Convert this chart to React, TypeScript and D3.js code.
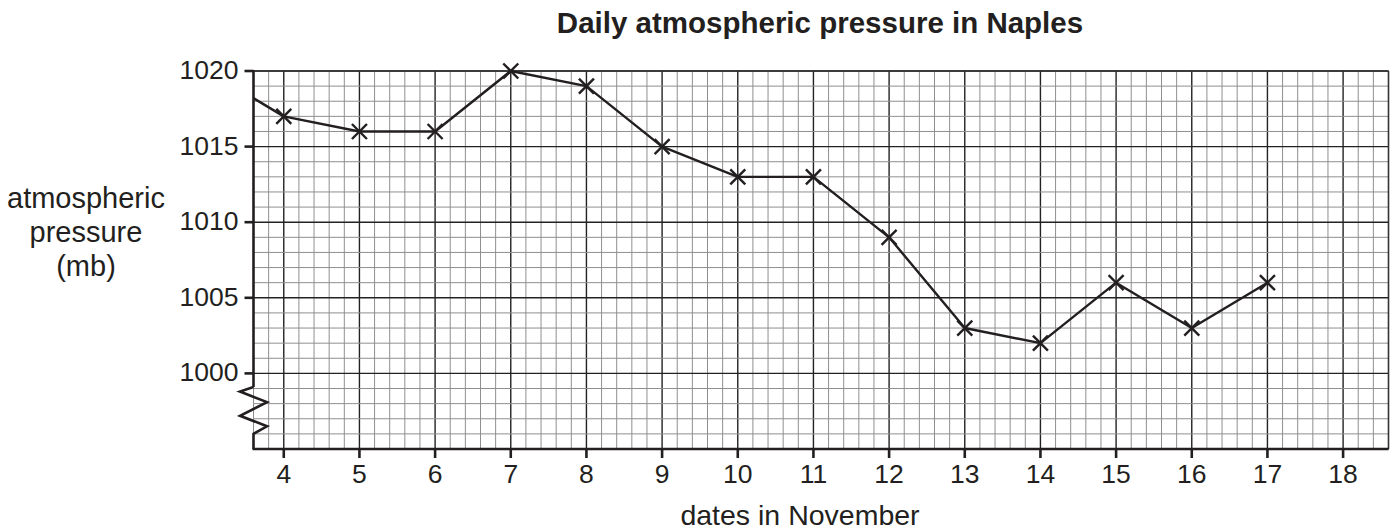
import React from "react";
import * as d3 from "d3";

const days = [3, 4, 5, 6, 7, 8, 9, 10, 11, 12, 13, 14, 15, 16, 17];
const pressure = [1020, 1017, 1016, 1016, 1020, 1019, 1015, 1013, 1013, 1009, 1003, 1002, 1006, 1003, 1006];
const xTicks = [4, 5, 6, 7, 8, 9, 10, 11, 12, 13, 14, 15, 16, 17, 18];
const yTicks = [1000, 1005, 1010, 1015, 1020];
const title = "Daily atmospheric pressure in Naples";
const xLabel = "dates in November";
const yLabelLines = ["atmospheric", "pressure", "(mb)"];

const W = 1396;
const H = 531;
const left = 253.5;
const right = 1388.5;
const top = 71;
const bottom = 449;

export default function App() {
  const x = d3.scaleLinear().domain([3.6, 18.6]).range([left, right]);
  const y = d3.scaleLinear().domain([995, 1020]).range([bottom, top]);

  const minorX = d3.range(36, 187, 2).map((v) => v / 10);
  const minorY = d3.range(995, 1021, 1);

  const pts = days.map((d, i) => [d, pressure[i]] as [number, number]);
  const line = d3
    .line<[number, number]>()
    .x((d) => x(d[0]))
    .y((d) => y(d[1]));

  const font = "'Liberation Sans', Arial, sans-serif";
  const s = 7.5;

  const zig = [
    [left, y(999.1)],
    [240, y(998.8)],
    [267, y(998.1)],
    [240, y(997.2)],
    [267, y(996.5)],
    [left, y(996)],
    [left, bottom],
  ];

  return (
    <svg
      width={W}
      height={H}
      style={{ position: "absolute", left: 0, top: 0, background: "#fff" }}
      fontFamily={font}
    >
      <defs>
        <clipPath id="plotclip">
          <rect x={left} y={top - 10} width={right - left} height={bottom - top + 10} />
        </clipPath>
      </defs>
      <rect x={0} y={0} width={W} height={H} fill="#fff" />
      {/* grid */}
      {minorX.map((v, i) => {
        const major = Math.abs(v - Math.round(v)) < 1e-6;
        return (
          <line
            key={"mx" + i}
            x1={x(v)}
            x2={x(v)}
            y1={top}
            y2={bottom}
            stroke={major ? "#222" : "#8f8f8f"}
            strokeWidth={major ? 1.4 : 1}
          />
        );
      })}
      {minorY.map((v, i) => {
        const major = v % 5 === 0;
        return (
          <line
            key={"my" + i}
            x1={left}
            x2={right}
            y1={y(v)}
            y2={y(v)}
            stroke={major ? "#222" : "#8f8f8f"}
            strokeWidth={major ? 1.4 : 1}
          />
        );
      })}
      <line x1={right} x2={right} y1={top} y2={bottom} stroke="#333" strokeWidth={1.6} />
      <line x1={left} x2={right} y1={top} y2={top} stroke="#333" strokeWidth={1.6} />
      {/* x axis */}
      <line x1={left - 1} x2={right} y1={bottom} y2={bottom} stroke="#231f20" strokeWidth={2.6} />
      {xTicks.map((t) => (
        <g key={"xt" + t}>
          <line x1={x(t)} x2={x(t)} y1={bottom} y2={bottom + 9} stroke="#231f20" strokeWidth={2.6} />
          <text x={x(t)} y={bottom + 34} textAnchor="middle" fontSize={26.5} fill="#231f20">
            {t}
          </text>
        </g>
      ))}
      {/* y axis */}
      <line x1={left} x2={left} y1={top - 1} y2={y(999.1)} stroke="#231f20" strokeWidth={2.6} />
      <polyline
        points={zig.map((p) => p.join(",")).join(" ")}
        fill="none"
        stroke="#231f20"
        strokeWidth={2.6}
        strokeLinejoin="miter"
      />
      {yTicks.map((t) => (
        <g key={"yt" + t}>
          <line x1={left - 9} x2={left} y1={y(t)} y2={y(t)} stroke="#231f20" strokeWidth={2.6} />
          <text x={left - 15} y={y(t) + 8} textAnchor="end" fontSize={26.5} fill="#231f20">
            {t}
          </text>
        </g>
      ))}
      {/* data line */}
      <g clipPath="url(#plotclip)">
        <path d={line(pts) || ""} fill="none" stroke="#231f20" strokeWidth={2.4} strokeLinejoin="round" />
      </g>
      {pts
        .filter((p) => p[0] >= 3.6)
        .map((p, i) => (
          <g key={"pt" + i} stroke="#231f20" strokeWidth={2.4}>
            <line x1={x(p[0]) - s} y1={y(p[1]) - s} x2={x(p[0]) + s} y2={y(p[1]) + s} />
            <line x1={x(p[0]) - s} y1={y(p[1]) + s} x2={x(p[0]) + s} y2={y(p[1]) - s} />
          </g>
        ))}
      {/* titles */}
      <text x={820} y={33} textAnchor="middle" fontSize={29.5} fontWeight="bold" fill="#231f20">
        {title}
      </text>
      <text x={800} y={525} textAnchor="middle" fontSize={28.5} fill="#231f20">
        {xLabel}
      </text>
      {yLabelLines.map((l, i) => (
        <text key={l} x={86} y={208 + i * 34} textAnchor="middle" fontSize={29} fill="#231f20">
          {l}
        </text>
      ))}
    </svg>
  );
}
